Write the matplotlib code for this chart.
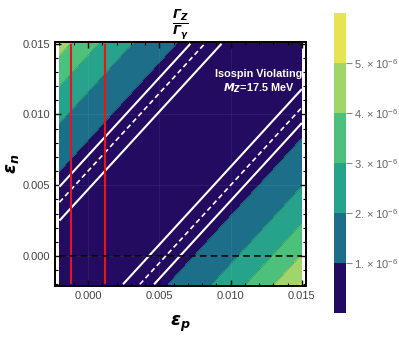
import numpy as np
import matplotlib.pyplot as plt
from matplotlib.ticker import MultipleLocator, FormatStrFormatter

plt.rcParams['font.family'] = ['Liberation Sans', 'DejaVu Sans']
plt.rcParams['mathtext.fontset'] = 'custom'
plt.rcParams['mathtext.rm'] = 'Liberation Sans'
plt.rcParams['mathtext.it'] = 'Liberation Sans:italic'
plt.rcParams['mathtext.bf'] = 'DejaVu Sans:bold:italic'

# ratio ~ coef * (eps_n - slope * eps_p)^2
slope = 1.1
coef = 0.0149
eps_range = [-0.002, 0.015]

# filled contour levels and colours (Gamma_Z / Gamma_gamma)
levels = [0, 1e-6, 2e-6, 3e-6, 4e-6, 5e-6, 6e-6]
fill_colors = ['#230b61', '#1d6e89', '#27a28b', '#4dc17b', '#9fd56a', '#e6e452']
cbar_ticks = [1e-6, 2e-6, 3e-6, 4e-6, 5e-6]
cbar_labels = [r'$1.\times10^{-6}$', r'$2.\times10^{-6}$', r'$3.\times10^{-6}$',
               r'$4.\times10^{-6}$', r'$5.\times10^{-6}$']

# white band (central value dashed, bounds solid), in units of eps_n - slope*eps_p
band_lo = 0.0047
band_mid = 0.006
band_hi = 0.0071

# red vertical bounds on eps_p
red_x = [-0.0012, 0.0012]

ep = np.linspace(eps_range[0], eps_range[1], 500)
en = np.linspace(eps_range[0], eps_range[1], 500)
EP, EN = np.meshgrid(ep, en)
U = EN - slope * EP
F = coef * U ** 2

fig = plt.figure(figsize=(3.99, 3.38), dpi=100)
ax = fig.add_axes([0.138, 0.154, 0.629, 0.722])

cf = ax.contourf(EP, EN, F, levels=levels, colors=fill_colors, extend='neither')
ax.contour(EP, EN, F, levels=levels[1:-1], colors='k', linewidths=0.3, alpha=0.35)

ax.contour(EP, EN, U, levels=[-band_hi, -band_lo, band_lo, band_hi],
           colors='white', linewidths=1.5, linestyles='solid')
ax.contour(EP, EN, U, levels=[-band_mid, band_mid],
           colors='white', linewidths=1.2, linestyles=[(0, (3, 2))])

ax.vlines(red_x, eps_range[0], eps_range[1], colors='#e8141c', linewidth=1.5)
ax.hlines(0, eps_range[0], eps_range[1], colors='black', linewidth=1.2,
          linestyles=(0, (4, 2.5)))

ax.set_xlim(-0.00231, 0.01529)
ax.set_ylim(-0.00212, 0.01513)

for v in [0.0, 0.005, 0.010]:
    ax.axvline(v, color='white', alpha=0.06, lw=0.8)
    ax.axhline(v, color='white', alpha=0.06, lw=0.8)

ax.xaxis.set_major_locator(MultipleLocator(0.005))
ax.xaxis.set_minor_locator(MultipleLocator(0.001))
ax.yaxis.set_major_locator(MultipleLocator(0.005))
ax.yaxis.set_minor_locator(MultipleLocator(0.001))
ax.xaxis.set_major_formatter(FormatStrFormatter('%.3f'))
ax.yaxis.set_major_formatter(FormatStrFormatter('%.3f'))
ax.tick_params(which='both', direction='in', top=True, right=True,
               labelsize=8, labelcolor='#444444')
ax.tick_params(which='major', length=4, width=1)
ax.tick_params(which='minor', length=2, width=0.8)
for s in ax.spines.values():
    s.set_linewidth(1.4)

ax.set_xlabel(r'$\mathbf{ε_p}$', fontsize=13, labelpad=9)
ax.set_ylabel(r'$\mathbf{ε_n}$', fontsize=13, labelpad=1)
ax.set_title(r'$\mathbf{\frac{Γ_Z}{Γ_γ}}$', fontsize=13, pad=3)

ax.text(0.01195, 0.01285, 'Isospin Violating', color='white', fontsize=7.8,
        fontweight='bold', ha='center', va='center')
ax.text(0.01195, 0.01185, r'$\mathbf{M_{Z}}$=17.5 MeV', color='white', fontsize=7.8,
        fontweight='bold', ha='center', va='center')

cax = fig.add_axes([0.837, 0.074, 0.030, 0.888])
cb = fig.colorbar(cf, cax=cax, ticks=cbar_ticks)
cb.outline.set_visible(False)
cb.ax.set_yticklabels(cbar_labels)
cb.ax.tick_params(length=4, width=0.8, color='#888888', labelsize=8,
                  labelcolor='#666666', pad=2)

fig.savefig('out.png', dpi=100)
